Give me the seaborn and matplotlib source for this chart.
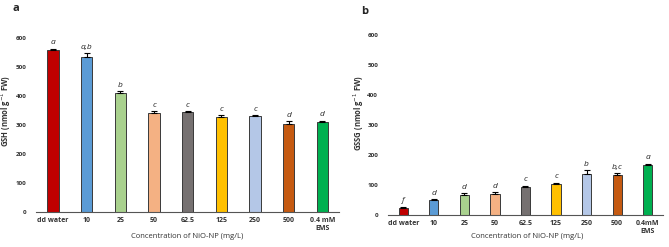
import pandas as pd
import matplotlib.pyplot as plt
import seaborn as sns

# Dados
categorias_a = ["dd water", "10", "25", "50", "62.5", "125", "250", "500", "0.4 mM\nEMS"]
categorias_b = ["dd water", "10", "25", "50", "62.5", "125", "250", "500", "0.4mM\nEMS"]
gsh = [558, 535, 411, 340, 345, 328, 330, 305, 312]
gsh_erro = [5, 12, 5, 7, 3, 6, 5, 8, 3]
gsh_letras = ["a", "a,b", "b", "c", "c", "c", "c", "d", "d"]
gssg = [24, 49, 65, 70, 93, 104, 138, 132, 166]
gssg_erro = [3, 4, 7, 6, 4, 4, 12, 8, 5]
gssg_letras = ["f", "d", "d", "d", "c", "c", "b", "b,c", "a"]
cores = ["#C00000", "#5B9BD5", "#A9D18E", "#F4B183", "#767171",
         "#FFC000", "#B4C7E7", "#C55A11", "#00B050"]

sns.set_style("white")
plt.rcParams["font.family"] = ["Open Sans", "DejaVu Sans"]

fig = plt.figure(figsize=(6.69, 2.47), dpi=100)
ax_a = fig.add_axes([0.054, 0.142, 0.453, 0.704])
ax_b = fig.add_axes([0.580, 0.130, 0.411, 0.728])


def painel(ax, cats, valores, erros, letras, ylabel, largura, pos_xlabel, pos_ylabel):
    df = pd.DataFrame({"cat": cats, "val": valores})
    sns.barplot(data=df, x="cat", y="val", hue="cat", palette=cores, legend=False,
                width=largura, saturation=1, edgecolor="#3a3a3a", linewidth=0.7, ax=ax)
    ax.errorbar(range(len(cats)), valores, yerr=[[0] * len(erros), erros], fmt="none",
                ecolor="black", elinewidth=0.8, capsize=2, capthick=0.8)
    for i, (v, e, t) in enumerate(zip(valores, erros, letras)):
        ax.text(i, v + e + 8, t, ha="center", va="bottom", fontsize=6, style="italic")
    ax.set_ylim(0, 600)
    ax.set_yticks([0, 100, 200, 300, 400, 500, 600])
    ax.set_xlim(-0.5, len(cats) - 0.5)
    sns.despine(ax=ax, left=True)
    ax.spines["bottom"].set_color("#555555")
    ax.tick_params(axis="y", length=0, labelsize=4.5, pad=7)
    ax.tick_params(axis="x", length=0, labelsize=5, pad=4)
    for lbl in ax.get_xticklabels() + ax.get_yticklabels():
        lbl.set_fontweight("bold")
        lbl.set_color("#333333")
    ax.set_xlabel("Concentration of NiO-NP (mg/L)", fontsize=5.5, color="#333333")
    ax.set_ylabel(ylabel, fontsize=5.5, fontweight="bold", color="#333333")
    ax.xaxis.set_label_coords(*pos_xlabel)
    ax.yaxis.set_label_coords(*pos_ylabel)


painel(ax_a, categorias_a, gsh, gsh_erro, gsh_letras, "GSH (nmol g$^{-1}$ FW)", 0.33,
       (0.5, -0.12), (-0.075, 0.58))
painel(ax_b, categorias_b, gssg, gssg_erro, gssg_letras, "GSSG (nmol g$^{-1}$ FW)", 0.3,
       (0.505, -0.10), (-0.08, 0.567))

fig.text(0.018, 0.955, "a", fontsize=8, fontweight="bold")
fig.text(0.540, 0.945, "b", fontsize=8, fontweight="bold")

plt.savefig("out.png", dpi=100)
